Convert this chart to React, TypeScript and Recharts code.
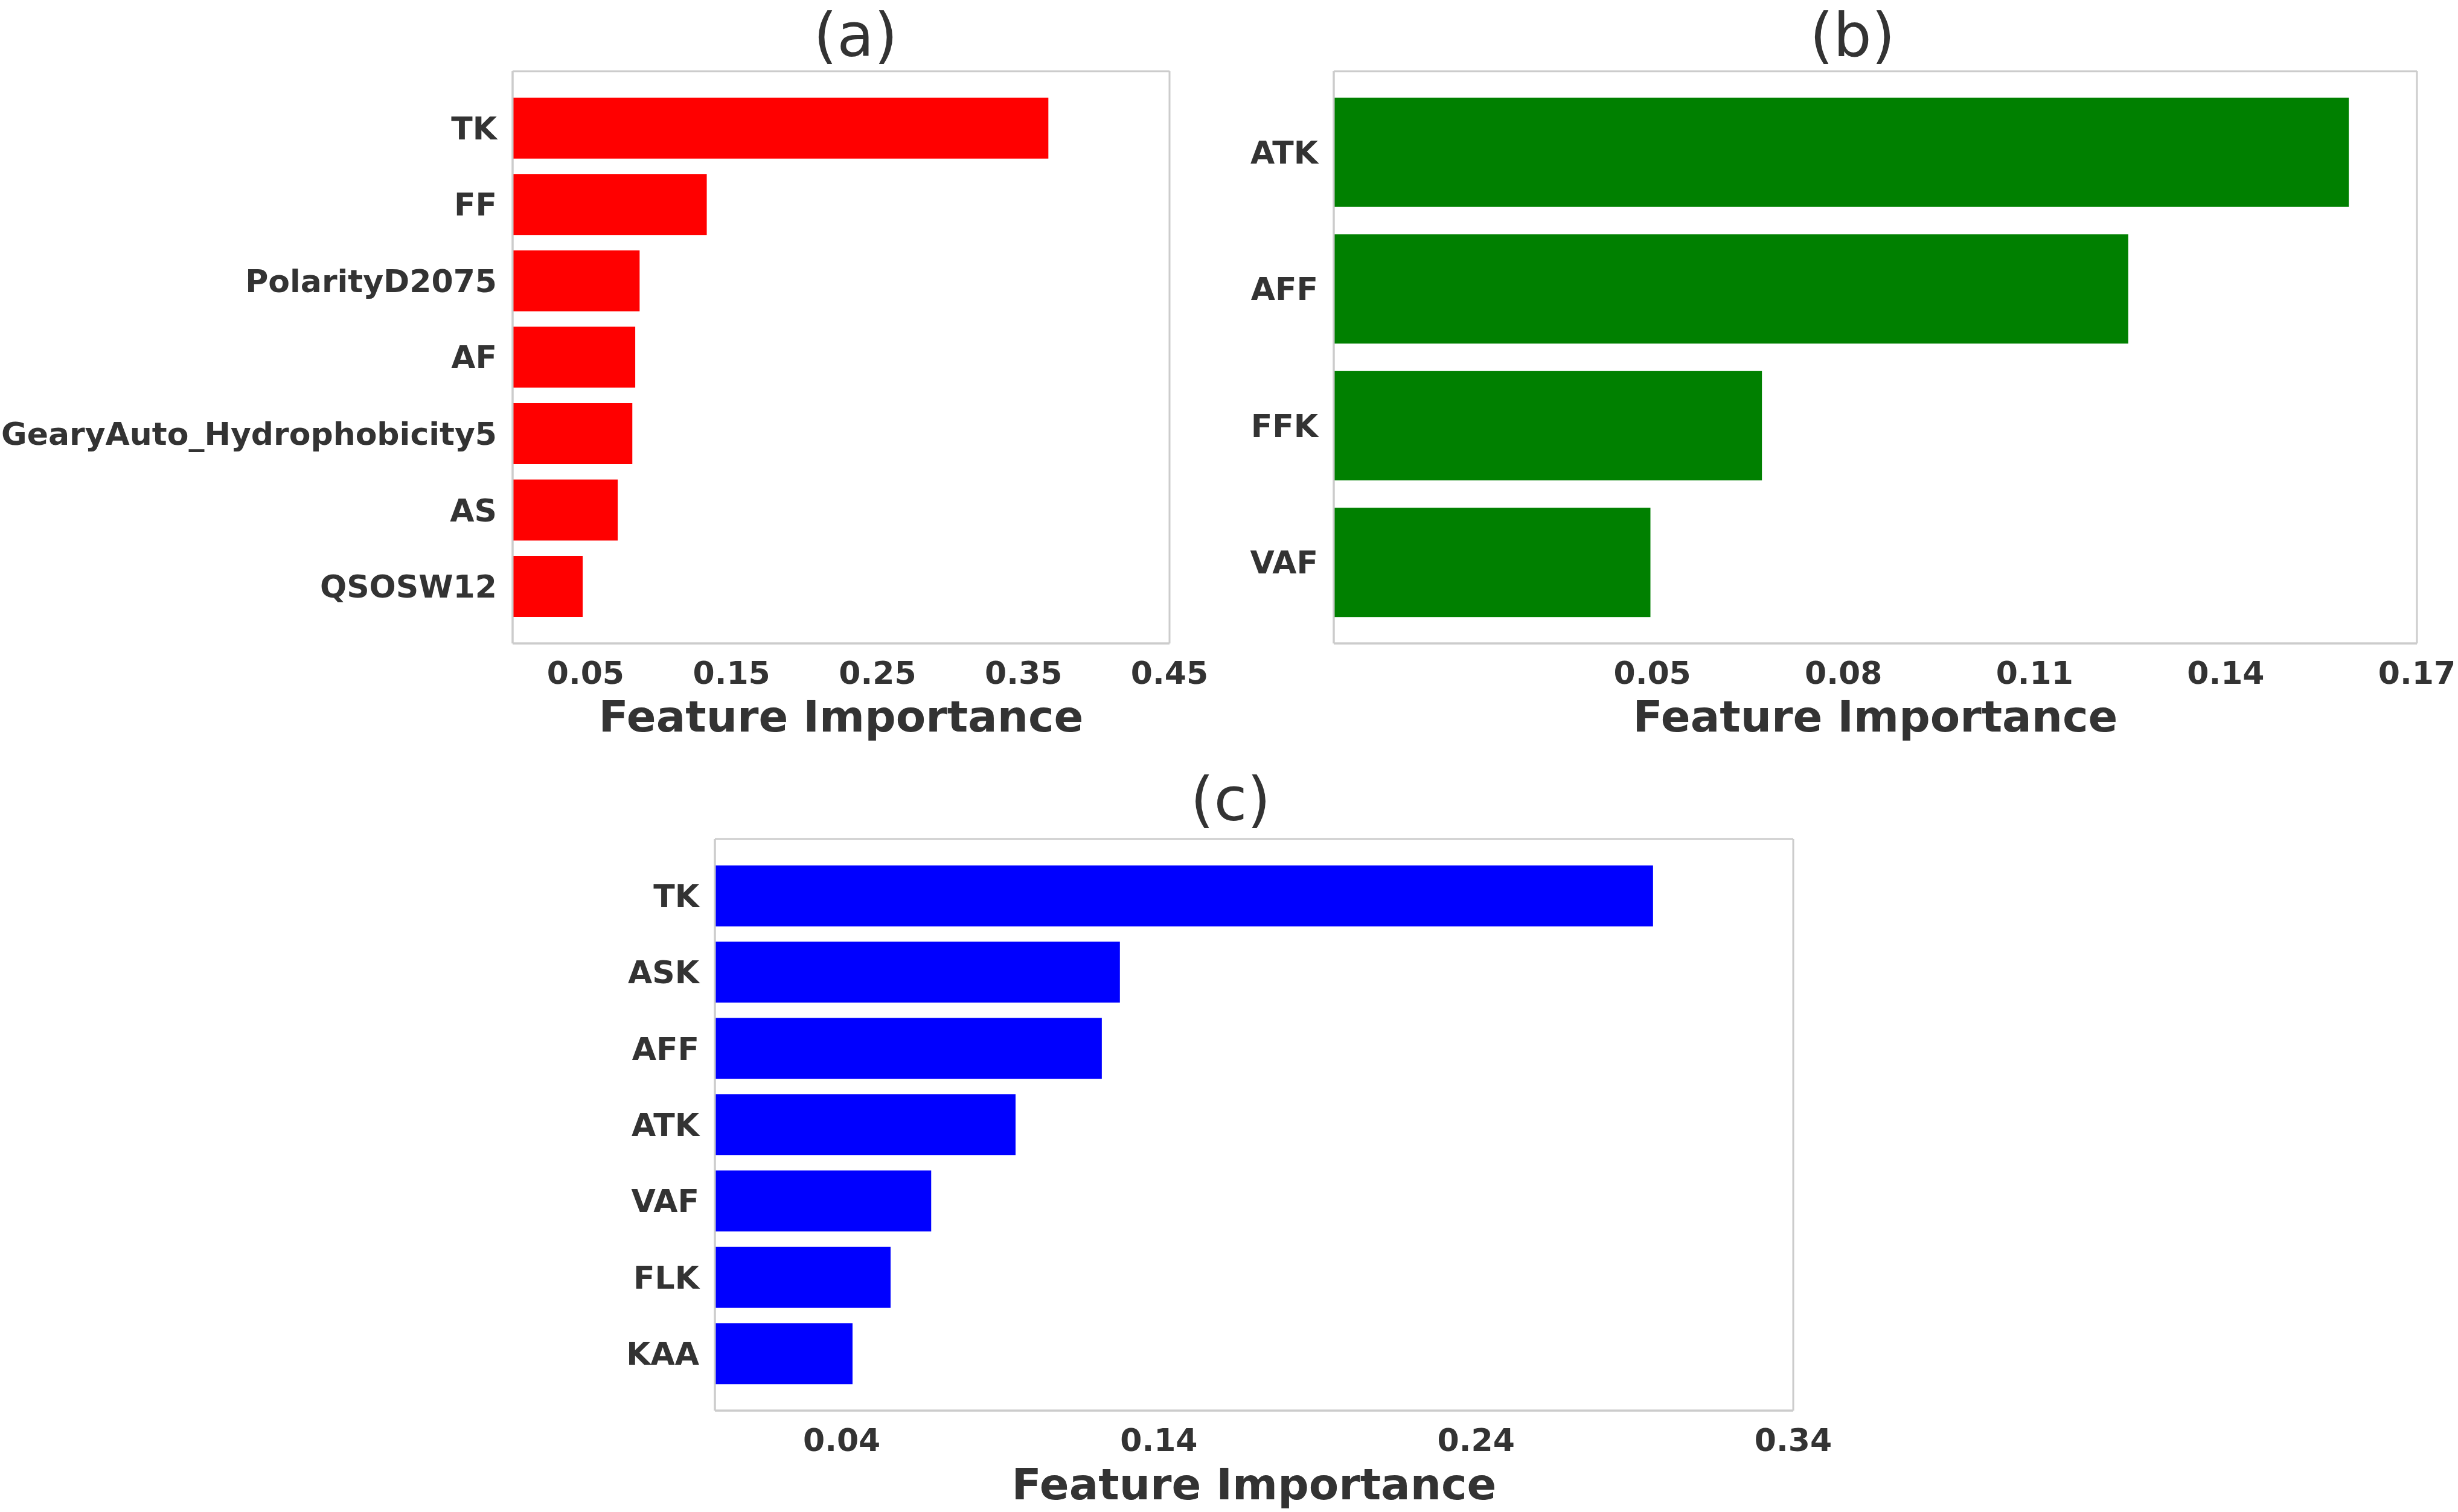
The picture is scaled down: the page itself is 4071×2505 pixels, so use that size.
import React from "react"
import { BarChart, Bar, XAxis, YAxis, CartesianGrid, Label } from "recharts"

// panel (a)
const aFeatures = ["TK", "FF", "PolarityD2075", "AF", "GearyAuto_Hydrophobicity5", "AS", "QSOSW12"]
const aValues = [0.367, 0.133, 0.087, 0.084, 0.082, 0.072, 0.048]
const aTicks = [0.05, 0.15, 0.25, 0.35, 0.45]

// panel (b)
const bFeatures = ["ATK", "AFF", "FFK", "VAF"]
const bValues = [0.1593, 0.1247, 0.0672, 0.0497]
const bTicks = [0.05, 0.08, 0.11, 0.14, 0.17]

// panel (c)
const cFeatures = ["TK", "ASK", "AFF", "ATK", "VAF", "FLK", "KAA"]
const cValues = [0.2958, 0.1277, 0.122, 0.0948, 0.0682, 0.0554, 0.0434]
const cTicks = [0.04, 0.14, 0.24, 0.34]

const FONT = "DejaVu Sans, Verdana, sans-serif"
const TEXT = "#333333"
const FRAME = "#cccccc"

const toRows = (names, values) => names.map((name, i) => ({ name, value: values[i] }))

const tickStyle = { fill: TEXT, fontSize: 52, fontWeight: "bold", fontFamily: FONT }

const FeaturePanel = ({
  names,
  values,
  ticks,
  color,
  width,
  height,
  plotLeft,
  plotRight,
  plotTop,
  plotBottom,
  pad,
  labelOffset,
}) => {
  const data = toRows(names, values)
  return (
    <BarChart
      width={width}
      height={height}
      data={data}
      layout="vertical"
      barCategoryGap="10%"
      margin={{ top: plotTop, right: width - plotRight, bottom: 0, left: 0 }}
    >
      <CartesianGrid
        stroke={FRAME}
        strokeWidth={3}
        horizontalCoordinatesGenerator={({ offset }) => [offset.top, offset.top + offset.height]}
        verticalCoordinatesGenerator={({ offset }) => [offset.left, offset.left + offset.width]}
      />
      <XAxis
        type="number"
        domain={[0, ticks[ticks.length - 1]]}
        ticks={ticks}
        interval={0}
        tickFormatter={(v) => v.toFixed(2)}
        tickLine={false}
        tickSize={0}
        tickMargin={30}
        axisLine={{ stroke: FRAME, strokeWidth: 3 }}
        height={height - plotBottom}
        tick={tickStyle}
      >
        <Label
          value="Feature Importance"
          position="insideBottom"
          offset={labelOffset}
          fill={TEXT}
          fontSize={72}
          fontWeight="bold"
          fontFamily={FONT}
        />
      </XAxis>
      <YAxis
        type="category"
        dataKey="name"
        interval={0}
        width={plotLeft}
        tickLine={false}
        tickSize={0}
        tickMargin={26}
        axisLine={{ stroke: FRAME, strokeWidth: 3 }}
        padding={{ top: pad, bottom: pad }}
        tick={tickStyle}
      />
      <Bar dataKey="value" fill={color} isAnimationActive={false} />
    </BarChart>
  )
}

const PanelTitle = ({ text, cx, baseline }) => (
  <div
    style={{
      position: "absolute",
      left: cx - 200,
      width: 400,
      top: baseline - 85,
      textAlign: "center",
      fontFamily: FONT,
      fontSize: 100,
      lineHeight: 1,
      color: TEXT,
    }}
  >
    {text}
  </div>
)

export default function App() {
  return (
    <div
      style={{
        position: "absolute",
        left: 0,
        top: 0,
        width: 4071,
        height: 2505,
        background: "#ffffff",
        overflow: "hidden",
      }}
    >
      <div style={{ position: "absolute", left: 0, top: 0 }}>
        <FeaturePanel
          names={aFeatures}
          values={aValues}
          ticks={aTicks}
          color="#ff0000"
          width={2040}
          height={1250}
          plotLeft={849}
          plotRight={1937}
          plotTop={118}
          plotBottom={1066}
          pad={31}
          labelOffset={38}
        />
      </div>
      <div style={{ position: "absolute", left: 2040, top: 0 }}>
        <FeaturePanel
          names={bFeatures}
          values={bValues}
          ticks={bTicks}
          color="#008000"
          width={2031}
          height={1250}
          plotLeft={169}
          plotRight={1963}
          plotTop={118}
          plotBottom={1066}
          pad={21}
          labelOffset={38}
        />
      </div>
      <div style={{ position: "absolute", left: 1000, top: 1272 }}>
        <FeaturePanel
          names={cFeatures}
          values={cValues}
          ticks={cTicks}
          color="#0000ff"
          width={2071}
          height={1233}
          plotLeft={184}
          plotRight={1970}
          plotTop={118}
          plotBottom={1065}
          pad={31}
          labelOffset={21}
        />
      </div>
      <PanelTitle text="(a)" cx={1417} baseline={94} />
      <PanelTitle text="(b)" cx={3068} baseline={94} />
      <PanelTitle text="(c)" cx={2038} baseline={1360} />
    </div>
  )
}
